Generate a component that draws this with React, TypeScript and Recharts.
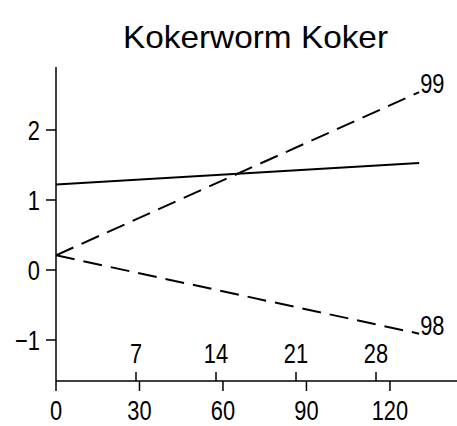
import React from "react";
import {
  LineChart,
  Line,
  XAxis,
  YAxis,
  LabelList,
  ReferenceLine,
  Customized,
} from "recharts";

// days since start, two end points per line
const days = [0, 130.5];
const solidValues = [1.22, 1.53];
const values99 = [0.21, 2.54];
const values98 = [0.21, -0.91];

const dayTicks = [0, 30, 60, 90, 120];
const weekTicks = [7, 14, 21, 28];
const yTicks = [-1, 0, 1, 2];
// inner scale: one unit of it spans this many days
const DAYS_PER_WEEK_UNIT = 4.107;

const dayDomain: [number, number] = [0, 144.1];
const yDomain: [number, number] = [-1.586, 2.9];

const data = days.map((d, i) => ({
  day: d,
  solid: solidValues[i],
  s99: values99[i],
  s98: values98[i],
}));

const FONT = '"Liberation Sans", Arial, sans-serif';
const INK = "#000";
const SQUEEZE = 0.78;

const fmtY = (v: number) => (v < 0 ? `\u2212${Math.abs(v)}` : `${v}`);

// narrow text, like the plotter font of the original
function Narrow({ x, y, anchor = "middle", size = 28, children }: any) {
  return (
    <text
      transform={`translate(${x},${y}) scale(${SQUEEZE},1)`}
      x={0}
      y={0}
      textAnchor={anchor}
      fontFamily={FONT}
      fontSize={size}
      fill={INK}
    >
      {children}
    </text>
  );
}

function DayTick(props: any) {
  const { x, y, payload } = props;
  return <Narrow x={x} y={y + 27}>{payload.value}</Narrow>;
}

function ValueTick(props: any) {
  const { x, y, payload } = props;
  return (
    <Narrow x={x} y={y + 10} anchor="end">
      {fmtY(payload.value)}
    </Narrow>
  );
}

// short upward tick on the x axis line, with its label above
function weekMark(label: number) {
  return (props: any) => {
    const x = props.x1;
    const y = Math.max(props.y1, props.y2);
    return (
      <g>
        <line x1={x} y1={y} x2={x} y2={y - 9} stroke={INK} strokeWidth={1.5} />
        <Narrow x={x} y={y - 18}>{label}</Narrow>
      </g>
    );
  };
}

function endLabel(text: string) {
  return (props: any) => {
    const { x, y, index } = props;
    if (index !== days.length - 1) return null;
    return (
      <Narrow x={x + 1} y={y + 1} anchor="start">
        {text}
      </Narrow>
    );
  };
}

function Title() {
  return (
    <text
      x={123}
      y={48}
      fontFamily={FONT}
      fontSize={32}
      fill={INK}
      textLength={265}
      lengthAdjust="spacingAndGlyphs"
    >
      Kokerworm Koker
    </text>
  );
}

export default function App() {
  return (
    <div style={{ position: "absolute", left: 0, top: 0, background: "#fff" }}>
      <LineChart
        width={457}
        height={426}
        data={data}
        margin={{ top: 67, right: 0, bottom: 0, left: 0 }}
      >
        <Customized component={Title} />
        <XAxis
          dataKey="day"
          type="number"
          domain={dayDomain}
          ticks={dayTicks}
          allowDataOverflow
          height={45}
          interval={0}
          tickSize={10}
          tickMargin={2}
          axisLine={{ stroke: INK, strokeWidth: 1.5 }}
          tickLine={{ stroke: INK, strokeWidth: 1.5 }}
          tick={<DayTick />}
        />
        <YAxis
          type="number"
          domain={yDomain}
          ticks={yTicks}
          allowDataOverflow
          width={56}
          interval={0}
          tickSize={10}
          tickMargin={6}
          axisLine={{ stroke: INK, strokeWidth: 1.5 }}
          tickLine={{ stroke: INK, strokeWidth: 1.5 }}
          tick={<ValueTick />}
        />
        {weekTicks.map((w) => (
          <ReferenceLine
            key={w}
            x={w * DAYS_PER_WEEK_UNIT}
            stroke="none"
            shape={weekMark(w)}
          />
        ))}
        <Line
          dataKey="solid"
          stroke={INK}
          strokeWidth={2}
          dot={false}
          isAnimationActive={false}
        />
        <Line
          dataKey="s99"
          stroke={INK}
          strokeWidth={2}
          strokeDasharray="19 9"
          dot={false}
          isAnimationActive={false}
        >
          <LabelList dataKey="s99" content={endLabel("99")} />
        </Line>
        <Line
          dataKey="s98"
          stroke={INK}
          strokeWidth={2}
          strokeDasharray="19 9"
          dot={false}
          isAnimationActive={false}
        >
          <LabelList dataKey="s98" content={endLabel("98")} />
        </Line>
      </LineChart>
    </div>
  );
}
